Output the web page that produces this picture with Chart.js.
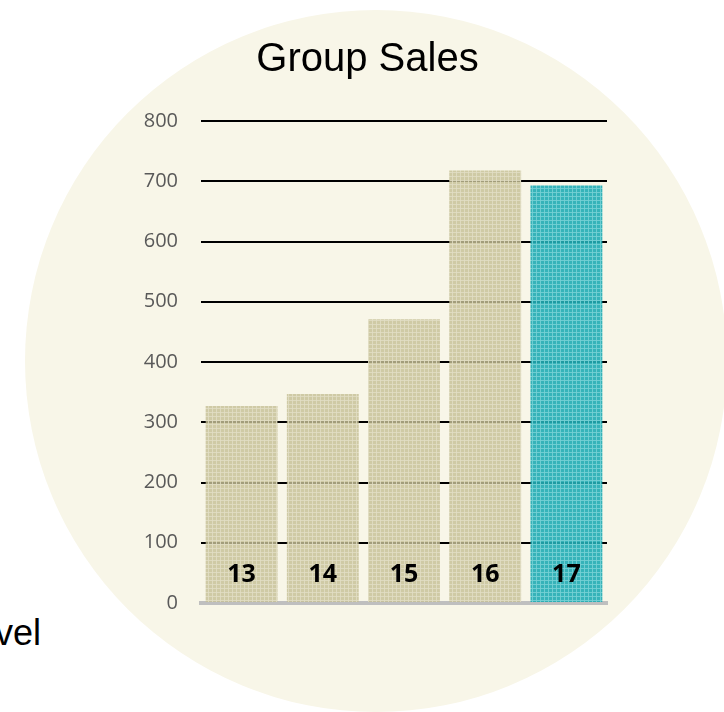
<!DOCTYPE html>
<html lang="en">
<head>
<meta charset="UTF-8">
<title>Group Sales</title>
<script src="https://cdn.jsdelivr.net/npm/chart.js@4/dist/chart.umd.min.js"></script>
<style>
  html, body { margin: 0; padding: 0; background: #fff; }
  .wrap { position: relative; width: 724px; height: 712px; overflow: hidden; }
  .disc {
    position: absolute; left: 25px; top: 10px; width: 702px; height: 702px;
    border-radius: 50%; background: #f8f6e8;
  }
  .side {
    position: absolute; left: -5px; top: 612px; margin: 0;
    font: 36px "Liberation Sans", Arial, sans-serif; color: #000;
  }
  #sales { position: absolute; left: 0; top: 0; }
</style>
</head>
<body>
<div class="wrap">
  <div class="disc"></div>
  <p class="side">vel</p>
  <canvas id="sales" width="724" height="712"></canvas>
</div>
<script>
const years = ['13', '14', '15', '16', '17'];
const sales = [327, 347, 471, 718, 693];
const yTicks = [0, 100, 200, 300, 400, 500, 600, 700, 800];

// small checked tile so the bars get the woven look
function texture(base, light) {
  const c = document.createElement('canvas');
  c.width = c.height = 4;
  const g = c.getContext('2d');
  g.fillStyle = base;
  g.fillRect(0, 0, 4, 4);
  g.fillStyle = light;
  g.fillRect(0, 0, 4, 1);
  g.fillRect(0, 0, 1, 4);
  return g.createPattern(c, 'repeat');
}

const tan = texture('rgba(198,191,150,0.82)', 'rgba(226,222,196,0.82)');
const teal = texture('rgba(32,172,180,0.9)', 'rgba(118,208,212,0.9)');

// year numbers sit inside the bars, just above the base line
const yearLabels = {
  id: 'yearLabels',
  afterDatasetsDraw(chart) {
    const { ctx, scales: { x, y } } = chart;
    ctx.save();
    ctx.font = 'bold 25px "Open Sans", sans-serif';
    ctx.fillStyle = '#000';
    ctx.textAlign = 'center';
    ctx.textBaseline = 'middle';
    years.forEach((yr, i) => {
      ctx.fillText(yr, x.getPixelForValue(i), y.getPixelForValue(0) - 28);
    });
    ctx.restore();
  }
};

new Chart(document.getElementById('sales'), {
  type: 'bar',
  data: {
    labels: years,
    datasets: [{
      data: sales,
      backgroundColor: sales.map((v, i) => i === sales.length - 1 ? teal : tan),
      borderWidth: 0,
      barPercentage: 0.885,
      categoryPercentage: 1
    }]
  },
  options: {
    responsive: false,
    animation: false,
    layout: { padding: { left: 128, right: 117, top: 0, bottom: 109 } },
    plugins: {
      legend: { display: false },
      tooltip: { enabled: false },
      title: {
        display: true,
        text: 'Group Sales',
        color: '#000',
        font: { family: '"Liberation Sans", Arial, sans-serif', size: 40, weight: 'normal' },
        padding: { top: 36, bottom: 37 }
      }
    },
    scales: {
      x: {
        ticks: { display: false },
        grid: { display: false },
        border: { display: true, color: '#bfbfbf', width: 4 },
        afterFit: s => { s.height = 0; }
      },
      y: {
        min: 0,
        max: 800,
        afterBuildTicks: s => { s.ticks = yTicks.map(v => ({ value: v })); },
        afterFit: s => { s.width = 73; },
        ticks: {
          color: '#595959',
          padding: 23,
          font: { family: '"Open Sans", sans-serif', size: 20 }
        },
        grid: {
          drawTicks: false,
          lineWidth: 2,
          color: c => c.tick && c.tick.value === 0 ? 'rgba(0,0,0,0)' : '#000'
        },
        border: { display: false }
      }
    }
  },
  plugins: [yearLabels]
});
</script>
</body>
</html>
